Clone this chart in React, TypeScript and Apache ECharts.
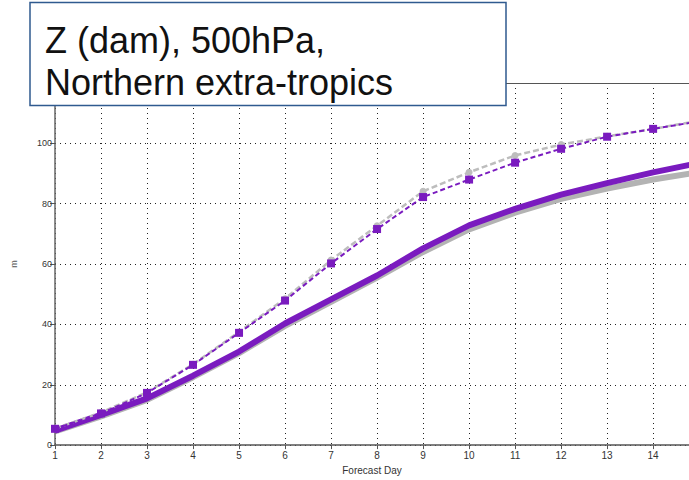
import React, { useEffect, useRef } from "react";
import * as echarts from "echarts";

const days = [1, 2, 3, 4, 5, 6, 7, 8, 9, 10, 11, 12, 13, 14, 15];
const graySolid = [4.5, 9.5, 15, 22.5, 30.5, 39.5, 47.5, 55.5, 64, 71.5, 77, 81.6, 85, 88, 90.5];
const purpleSolid = [4.8, 10, 15.5, 23, 31, 40.3, 48.3, 56.2, 65.2, 72.8, 78.3, 83, 86.8, 90.4, 93.5];
const grayDashed = [5.5, 10.8, 17.5, 26.8, 37.5, 48.5, 61.3, 72.7, 84.1, 90.4, 96, 99.6, 102.3, 104.8, 107.5];
const purpleDashed = [5.4, 10.5, 17.3, 26.6, 37.2, 47.9, 60.2, 71.6, 82.2, 88, 93.6, 98.2, 102.2, 104.8, 107.3];
const titleLines = ["Z (dam), 500hPa,", "Northern extra-tropics"];
const xName = "Forecast Day";
const yName = "m";

const PURPLE = "#7a1bbf";
const GRAY = "#b3b3b3";
const FONT = "'Liberation Sans', Arial, sans-serif";

const pair = (arr: number[]) => days.map((d, i) => [d, arr[i]]);

export default function App() {
  const ref = useRef<HTMLDivElement>(null);
  useEffect(() => {
    if (!ref.current) return;
    const chart = echarts.init(ref.current, undefined, { renderer: "svg" });
    const dotted = { color: "#222", type: [1, 4], width: 1 };
    chart.setOption({
      animation: false,
      backgroundColor: "#ffffff",
      grid: {
        left: 55,
        top: 83,
        bottom: 28,
        right: 0,
        show: false,
      },
      xAxis: [
        {
          type: "value",
          min: 1,
          max: 14.78,
          interval: 1,
          name: xName,
          nameLocation: "middle",
          nameGap: 19,
          nameTextStyle: { fontFamily: FONT, fontSize: 10, color: "#333" },
          axisLine: { show: true, lineStyle: { color: "#555", width: 1.5 } },
          axisTick: { show: true, length: 4, lineStyle: { color: "#555" } },
          axisLabel: { fontFamily: FONT, fontSize: 10, color: "#333", margin: 5, showMaxLabel: false },
          splitLine: { show: true, lineStyle: dotted },
        },
        {
          type: "value",
          position: "top",
          min: 1,
          max: 14.78,
          interval: 1,
          axisLine: { show: true, onZero: false, lineStyle: { color: "#555", width: 1 } },
          axisTick: { show: false },
          axisLabel: { show: false },
          splitLine: { show: false },
        },
      ],
      yAxis: {
        type: "value",
        min: 0,
        max: 120,
        interval: 20,
        name: yName,
        nameLocation: "middle",
        nameGap: 37,
        nameTextStyle: { fontFamily: FONT, fontSize: 9, color: "#555" },
        axisLine: { show: true, lineStyle: { color: "#666", width: 1.5 } },
        axisTick: { show: true, length: 5, lineStyle: { color: "#555" } },
        axisLabel: { fontFamily: FONT, fontSize: 9, color: "#333", margin: 3, showMaxLabel: false },
        splitLine: { show: true, lineStyle: dotted },
      },
      series: [
        {
          type: "line",
          data: pair(graySolid),
          showSymbol: false,
          symbol: "none",
          lineStyle: { color: GRAY, width: 6 },
          z: 2,
        },
        {
          type: "line",
          data: pair(purpleSolid),
          showSymbol: false,
          symbol: "none",
          lineStyle: { color: PURPLE, width: 6 },
          z: 3,
        },
        {
          type: "line",
          data: pair(grayDashed),
          symbol: "circle",
          symbolSize: 7,
          itemStyle: { color: "#bdbdbd" },
          lineStyle: { color: "#bdbdbd", width: 2.5, type: [6, 3] },
          z: 4,
        },
        {
          type: "line",
          data: pair(purpleDashed),
          symbol: "rect",
          symbolSize: 8,
          itemStyle: { color: PURPLE },
          lineStyle: { color: PURPLE, width: 2, type: [5, 3] },
          z: 5,
        },
      ],
      graphic: [
        {
          type: "rect",
          z: 100,
          shape: { x: 30, y: 2.5, width: 476, height: 103 },
          style: { fill: "#ffffff", stroke: "#2f5a8f", lineWidth: 1.5 },
        },
        {
          type: "text",
          z: 101,
          x: 45,
          y: 40,
          style: {
            text: titleLines[0],
            font: `36px ${FONT}`,
            fill: "#111",
            verticalAlign: "middle",
          },
        },
        {
          type: "text",
          z: 101,
          x: 45,
          y: 82,
          style: {
            text: titleLines[1],
            font: `36px ${FONT}`,
            fill: "#111",
            verticalAlign: "middle",
          },
        },
      ],
    });
    return () => chart.dispose();
  }, []);
  return (
    <div
      ref={ref}
      style={{ position: "fixed", left: 0, top: 0, width: 689, height: 480 }}
    />
  );
}
